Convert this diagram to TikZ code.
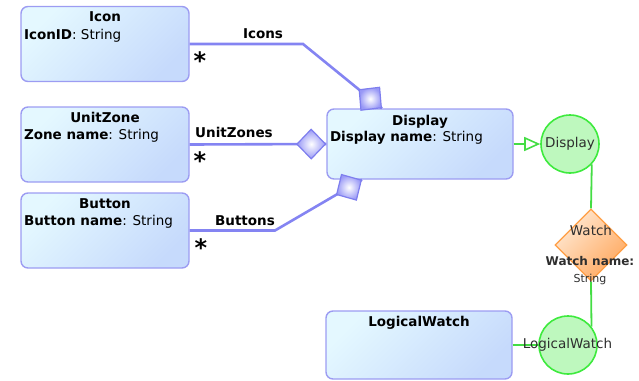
\documentclass[tikz,border=0pt]{standalone}
\usepackage{fontspec}
\setmainfont{DejaVu Sans}
\usetikzlibrary{arrows.meta,shapes.geometric,decorations.markings}

\definecolor{classedge}{HTML}{9C9CF2}
\definecolor{boxtop}{HTML}{E4F8FF}
\definecolor{boxbot}{HTML}{C6DAFC}
\definecolor{assocline}{HTML}{8484F2}
\definecolor{aggedge}{HTML}{7E7EEE}
\definecolor{aggfill}{HTML}{9898F6}
\definecolor{greenline}{HTML}{44DD44}
\definecolor{greenedge}{HTML}{3EEA3E}
\definecolor{greenfill}{HTML}{BEF8BE}
\definecolor{orangeedge}{HTML}{FF9E44}
\definecolor{orangetop}{HTML}{FFE8D2}
\definecolor{orangebot}{HTML}{FFA85E}
\definecolor{softtext}{HTML}{2E2E2E}

\begin{document}
\begin{tikzpicture}[x=1pt,y=-1pt,
  classbox/.style={draw=classedge, line width=1.4pt, rounded corners=7pt,
    top color=boxtop, bottom color=boxbot, shading angle=45,
    minimum width=168pt, minimum height=75pt, inner sep=0pt},
  widebox/.style={classbox, minimum width=186pt, minimum height=70pt},
  title/.style={font=\bfseries\fontsize{13.5}{16}\selectfont, anchor=base, inner sep=0pt},
  attr/.style={font=\fontsize{13.5}{16}\selectfont, anchor=base west, inner sep=0pt},
  rolelabel/.style={font=\bfseries\fontsize{13.5}{16}\selectfont, anchor=base, inner sep=0pt},
  multiplicity/.style={font=\bfseries\fontsize{24}{24}\selectfont, inner sep=0pt, anchor=base},
  aggtip/.style={diamond, draw=aggedge, line width=1.2pt, inner color=white, outer color=aggfill,
    minimum width=29pt, minimum height=30pt, inner sep=0pt, anchor=east, transform shape},
  aggregation/.style={draw=assocline, line width=2.6pt,
    postaction={decorate, decoration={markings, mark=at position 1 with {\node[aggtip]{};}}}},
  instcircle/.style={circle, draw=greenedge, line width=1.6pt, fill=greenfill,
    minimum size=58pt, inner sep=0pt},
  insttext/.style={font=\fontsize{13.5}{16}\selectfont, text=softtext, anchor=base, inner sep=0pt},
  greenlink/.style={draw=greenline, line width=1.8pt},
]
\useasboundingbox (0,0) rectangle (639,380);

% classes
\node[classbox] (icon) at (105,44) {};
\node[classbox] (unitzone) at (105,144.5) {};
\node[classbox] (button) at (105,230.5) {};
\node[widebox] (display) at (420,144) {};
\node[widebox, minimum height=68pt] (logical) at (419,345) {};

\node[title] (icont) at ([yshift=-16pt]icon.north) {Icon};
\node[attr] (icona) at ([xshift=3.5pt,yshift=-34pt]icon.north west) {\textbf{IconID}: String};
\node[title] (unitzonet) at ([yshift=-16pt]unitzone.north) {UnitZone};
\node[attr] (unitzonea) at ([xshift=3.5pt,yshift=-33pt]unitzone.north west) {\textbf{Zone name}: String};
\node[title] (buttont) at ([yshift=-16pt]button.north) {Button};
\node[attr] (buttona) at ([xshift=3.5pt,yshift=-33pt]button.north west) {\textbf{Button name}: String};
\node[title] (displayt) at ([yshift=-17pt]display.north) {Display};
\node[attr] (displaya) at ([xshift=3.5pt,yshift=-33pt]display.north west) {\textbf{Display name}: String};
\node[title] (logicalt) at ([yshift=-16pt]logical.north) {LogicalWatch};

% aggregations into Display
\coordinate (iconbend) at (303,44);
\coordinate (buttonbend) at (275,230.5);
\path[aggregation] (icon.east) -- (iconbend) -- ([xshift=-38pt]display.north);
\path[aggregation] (unitzone.east) -- (display.west);
\path[aggregation] (button.east) -- (buttonbend) -- ([xshift=-58pt]display.south);

\node[rolelabel] (iconsl) at (263,38) {Icons};
\node[rolelabel, anchor=base west] (unitzonesl) at (195,137) {UnitZones};
\node[rolelabel] (buttonsl) at (245,225) {Buttons};
\node[multiplicity] (m1) at (200,69) {*};
\node[multiplicity] (m2) at (200,169) {*};
\node[multiplicity] (m3) at (201,256) {*};

% instances
\node[instcircle] (dispc) at (570,144) {};
\node[insttext] (dispct) at (570,147) {Display};
\node[diamond, draw=orangeedge, line width=1.3pt, top color=orangetop, bottom color=orangebot,
  shading angle=45, minimum width=72pt, minimum height=72pt, inner sep=0pt] (watch) at (591,245) {};
\node[instcircle] (lwc) at (568,345) {};

\draw[greenlink, -{Triangle[open, length=16pt, width=14pt, line width=1.6pt]}] (display.east) -- (dispc.west);
\draw[greenlink] (dispc.-43) -- (watch.north);
\draw[greenlink] (watch.south) -- (lwc.38);
\draw[greenlink] (logical.east) -- (lwc.west);

\node[insttext] (watcht) at (591,235) {Watch};
\node[insttext, font=\bfseries\fontsize{12}{14}\selectfont] (watchn) at (590,265) {Watch name:};
\node[insttext, font=\fontsize{11}{13}\selectfont] (watchs) at (590,282) {String};
\node[insttext] (lwct) at (567.5,348) {LogicalWatch};
\end{tikzpicture}
\end{document}
